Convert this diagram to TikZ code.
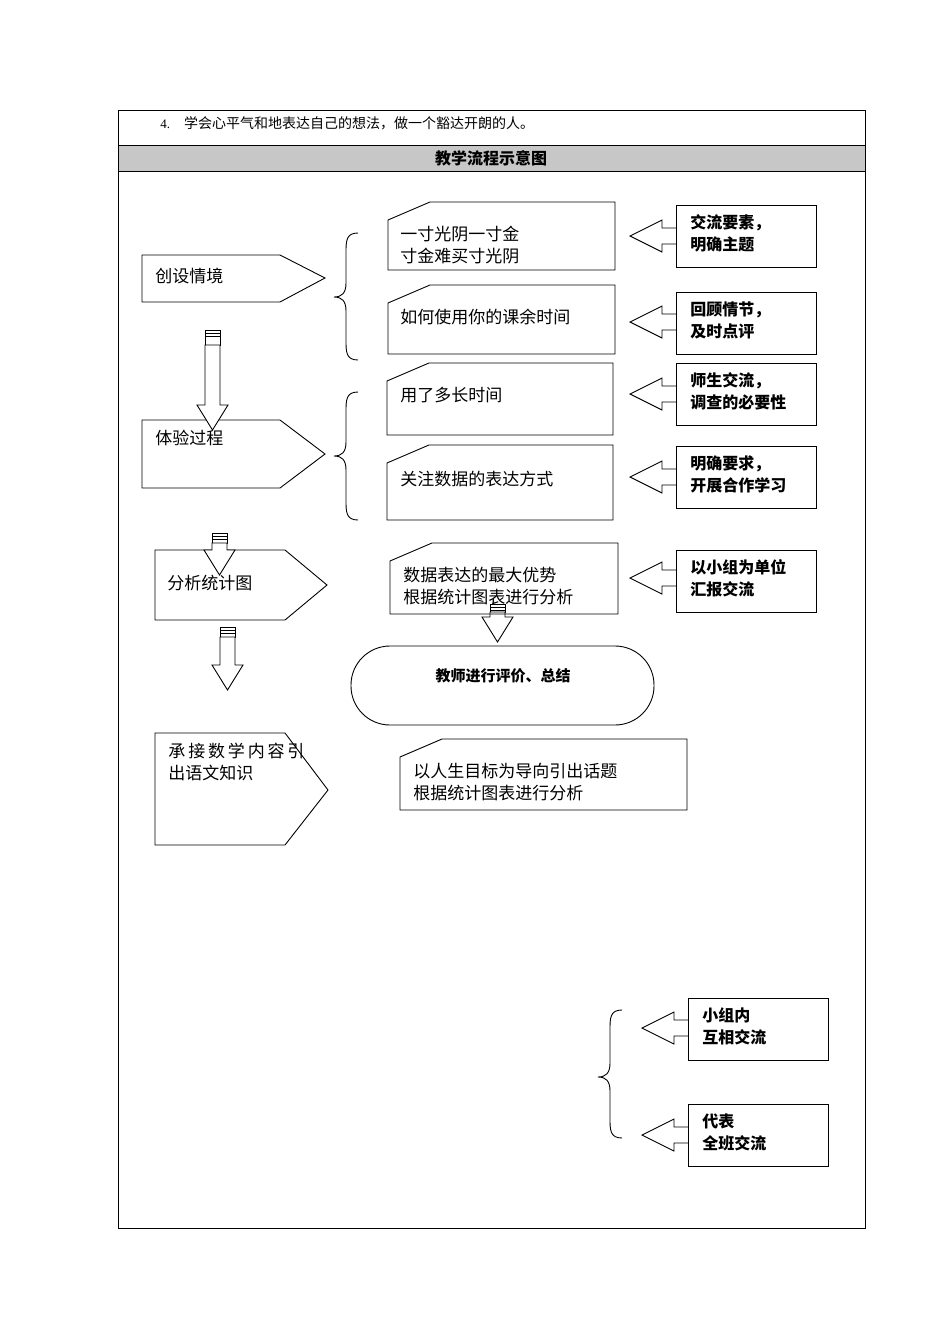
\documentclass[tikz,border=0pt]{standalone}
\usepackage{fontspec}
\setmainfont{Liberation Serif}
\newfontfamily\cjk{Noto Sans CJK SC}
\usetikzlibrary{calc}
\begin{document}
\begin{tikzpicture}[x=1pt,y=-1pt,line width=0.9pt,
  lbl/.style={font=\cjk\fontsize{17}{22}\selectfont,align=left,anchor=west,inner sep=0},
  cal/.style={font=\cjk\bfseries\fontsize{16}{22}\selectfont,align=left,anchor=west,inner sep=0},
  dn/.style={draw,fill=white}]
\useasboundingbox (0,0) rectangle (950,1344);
% table
\draw[line width=0.6pt] (118,110) rectangle (865,1228);
\draw[line width=0.6pt,fill=black!22] (118,145) rectangle (865,171);
\node[font=\cjk\bfseries\fontsize{16}{18}\selectfont] (hdr) at (491,158) {教学流程示意图};
\node[anchor=west,font=\fontsize{13}{16}\selectfont,inner sep=0] (t4) at (160,123) {4.\hspace{14pt}{\cjk\fontsize{14}{16}\selectfont 学会心平气和地表达自己的想法，做一个豁达开朗的人。}};
% left pentagons
\draw (142,255) -- (280,255) -- (325,278) -- (280,302) -- (142,302) -- cycle;
\node[lbl] (p1) at (155,276) {创设情境};
\draw (142,420) -- (280,420) -- (325,454) -- (280,488) -- (142,488) -- cycle;
\node[lbl] (p2) at (155,438) {体验过程};
\draw (155,550) -- (285,550) -- (327,585) -- (285,620) -- (155,620) -- cycle;
\node[lbl] (p3) at (167,583) {分析统计图};
\draw (155,733) -- (285,733) -- (328,790) -- (285,845) -- (155,845) -- cycle;
\node[lbl] (p4) at (168,762) {承\,接\,数\,学\,内\,容\,引\\出语文知识};
% down arrows
\foreach \x/\t/\s/\e in {205/330/345/430, 212/533/543/575, 220/627/637/690, 490/604/612/642}{
  \draw[fill=white] (\x,\t) rectangle (\x+15,\s);
  \draw[line width=0.5pt] (\x,\t+3) -- (\x+15,\t+3) (\x,\t+6) -- (\x+15,\t+6);
  \draw[fill=white] (\x,\s) -- (\x+15,\s) -- (\x+15,\e-25) -- (\x+23,\e-25) -- (\x+7.5,\e) -- (\x-8,\e-25) -- (\x,\e-25) -- cycle;
}
% braces
\foreach \a/\c/\b/\xx in {233/297/360/358, 392/456/520/358, 1010/1077/1138/622}{
  \draw (\xx,\a) .. controls (\xx-12,\a) and (\xx-12,\a+8) .. (\xx-12,\a+20) -- (\xx-12,\c-14)
    .. controls (\xx-12,\c-4) and (\xx-16,\c) .. (\xx-24,\c)
    .. controls (\xx-16,\c) and (\xx-12,\c+4) .. (\xx-12,\c+14) -- (\xx-12,\b-20)
    .. controls (\xx-12,\b-8) and (\xx-12,\b) .. (\xx,\b);
}
% middle boxes
\newcommand\cutbox[4]{\draw (#1,#2+18) -- (#1+42,#2) -- (#3,#2) -- (#3,#4) -- (#1,#4) -- cycle;}
\cutbox{388}{202}{615}{270}
\node[lbl] (m1) at (400,245) {一寸光阴一寸金\\寸金难买寸光阴};
\cutbox{388}{285}{615}{354}
\node[lbl] (m2) at (400,317) {如何使用你的课余时间};
\cutbox{387}{363}{613}{435}
\node[lbl] (m3) at (400,395) {用了多长时间};
\cutbox{387}{445}{613}{520}
\node[lbl] (m4) at (400,479) {关注数据的表达方式};
\cutbox{390}{543}{618}{614}
\node[lbl] (m5) at (403,586) {数据表达的最大优势\\根据统计图表进行分析};
\cutbox{400}{739}{687}{810}
\node[lbl] (m6) at (413,782) {以人生目标为导向引出话题\\根据统计图表进行分析};
% stadium
\draw[rounded corners=39pt] (351,646) rectangle (654,725);
\node[font=\cjk\bfseries\fontsize{15}{16}\selectfont] (st) at (503,676) {教师进行评价、总结};
% callouts
\newcommand\callout[5]{%
  \draw (#1,#2) rectangle (#1+140,#2+62);
  \draw (#1,#2+#3-8) -- (#1-14,#2+#3-8) -- (#1-14,#2+#3-16) -- (#4,#2+#3) -- (#1-14,#2+#3+16) -- (#1-14,#2+#3+8) -- (#1,#2+#3+8);
  \node[cal] at (#1+14,#2+28) {#5};}
\callout{676}{205}{31}{630}{交流要素，\\明确主题}
\callout{676}{292}{30}{630}{回顾情节，\\及时点评}
\callout{676}{363}{31}{630}{师生交流，\\调查的必要性}
\callout{676}{446}{31}{630}{明确要求，\\开展合作学习}
\callout{676}{550}{28}{630}{以小组为单位\\汇报交流}
\callout{688}{998}{30}{642}{小组内\\互相交流}
\callout{688}{1104}{31}{642}{代表\\全班交流}
\end{tikzpicture}
\end{document}
